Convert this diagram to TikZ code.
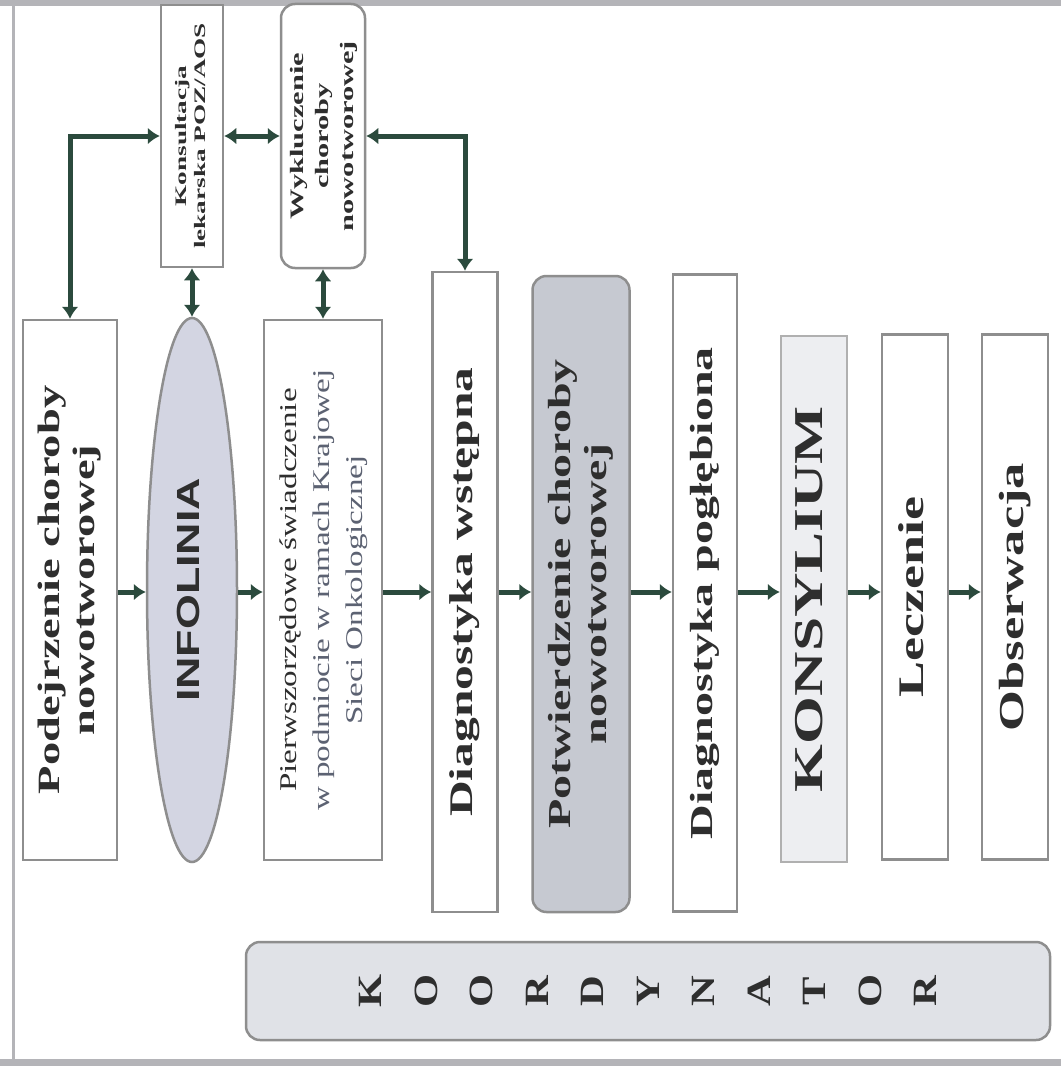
\documentclass[tikz,border=0pt]{standalone}
\usepackage{fontspec}
\usepackage{graphicx}
\setmainfont{Liberation Serif}
\newfontfamily\sansfam{Liberation Sans}
\usetikzlibrary{shapes.geometric,arrows.meta}
\definecolor{edge}{HTML}{8E8E8E}
\definecolor{arrowc}{HTML}{2B4A3D}
\definecolor{txt}{HTML}{2E2E2E}
\definecolor{txtlight}{HTML}{5C6272}
\definecolor{ellfill}{HTML}{D3D5E2}
\definecolor{potfill}{HTML}{C6C9D1}
\definecolor{konsfill}{HTML}{EDEEF1}
\definecolor{koordfill}{HTML}{E0E2E7}
\definecolor{framec}{HTML}{B4B4B8}
\newcommand\rtext[2][1.5]{\rotatebox{90}{\scalebox{#1}[1]{\begin{tabular}{@{}c@{}}#2\end{tabular}}}}
\begin{document}
\begin{tikzpicture}[x=1pt,y=-1pt,
  box/.style={draw=edge, line width=2.5pt, fill=white, inner sep=0pt, text=txt},
  rbox/.style={box, rounded corners=14pt},
  arr/.style={draw=arrowc, line width=5pt, -{Latex[length=12pt,width=17pt]}},
  darr/.style={draw=arrowc, line width=5pt, {Latex[length=12pt,width=17pt]}-{Latex[length=12pt,width=17pt]}}]
\useasboundingbox (0,0) rectangle (1061,1081);
\fill[white] (0,0) rectangle (1061,1081);
% frame
\fill[framec] (0,0) rectangle (1061,6);
\draw[framec, line width=3pt] (13,0) -- (13,1064);
\fill[framec] (0,1059) rectangle (1061,1066);
% top boxes
\node[box, minimum width=62pt, minimum height=262pt, font=\fontsize{16}{19}\selectfont\bfseries] (kon) at (192,136) {\rtext[1.7]{Konsultacja\\lekarska POZ/AOS}};
\node[rbox, minimum width=84pt, minimum height=264pt, font=\fontsize{19}{25}\selectfont\bfseries] (wyk) at (323,136) {\rtext[1.6]{Wykluczenie\\choroby\\nowotworowej}};
% main row
\node[box, minimum width=94pt, minimum height=540pt, font=\fontsize{31}{35}\selectfont\bfseries] (pod) at (70,590) {\rtext{Podejrzenie choroby\\nowotworowej}};
\node[ellipse, draw=edge, line width=2.5pt, fill=ellfill, inner sep=0pt, minimum width=90pt, minimum height=544pt, text=txt, font=\sansfam\fontsize{32}{36}\selectfont\bfseries] (inf) at (192,590) {\rtext[1.4]{INFOLINIA}};
\node[box, minimum width=118pt, minimum height=540pt, font=\fontsize{24}{33}\selectfont] (pie) at (323,590) {\rtext[1.38]{Pierwszorzędowe świadczenie\\\color{txtlight}w podmiocie w ramach Krajowej\\\color{txtlight}Sieci Onkologicznej}};
\node[box, minimum width=65pt, minimum height=640pt, font=\fontsize{33}{36}\selectfont\bfseries] (dw) at (465,592) {\rtext{Diagnostyka wstępna}};
\node[rbox, fill=potfill, minimum width=97pt, minimum height=636pt, font=\fontsize{32}{36}\selectfont\bfseries] (pot) at (581,594) {\rtext{Potwierdzenie choroby\\nowotworowej}};
\node[box, minimum width=64pt, minimum height=637pt, font=\fontsize{32}{36}\selectfont\bfseries] (dp) at (705,593) {\rtext{Diagnostyka pogłębiona}};
\node[box, draw=edge!70, fill=konsfill, minimum width=66pt, minimum height=526pt, font=\fontsize{41}{44}\selectfont\bfseries] (kons) at (814,599) {\rtext{KONSYLIUM}};
\node[box, minimum width=66pt, minimum height=525pt, font=\fontsize{36}{40}\selectfont\bfseries] (lecz) at (915,597) {\rtext{Leczenie}};
\node[box, minimum width=66pt, minimum height=525pt, font=\fontsize{35}{40}\selectfont\bfseries] (obs) at (1015,597) {\rtext{Obserwacja}};
% coordinator
\node[rbox, fill=koordfill, minimum width=804pt, minimum height=98pt, font=\fontsize{34}{55.5}\selectfont\bfseries] (koord) at (648,991) {\rtext[1.25]{K\\O\\O\\R\\D\\Y\\N\\A\\T\\O\\R}};
% arrows
\coordinate (ay) at (0,592);
\draw[arr] (pod.east |- ay) -- (inf.west |- ay);
\draw[arr] (inf.east |- ay) -- (pie.west |- ay);
\draw[arr] (pie.east |- ay) -- (dw.west |- ay);
\draw[arr] (dw.east |- ay) -- (pot.west |- ay);
\draw[arr] (pot.east |- ay) -- (dp.west |- ay);
\draw[arr] (dp.east |- ay) -- (kons.west |- ay);
\draw[arr] (kons.east |- ay) -- (lecz.west |- ay);
\draw[arr] (lecz.east |- ay) -- (obs.west |- ay);
\draw[darr] (pod.north) |- (kon.west);
\draw[darr] (kon.east) -- (wyk.west);
\draw[darr] (wyk.east) -| (dw.north);
\draw[darr] (kon.south) -- (inf.north);
\draw[darr] (wyk.south) -- (pie.north);
\end{tikzpicture}
\end{document}
